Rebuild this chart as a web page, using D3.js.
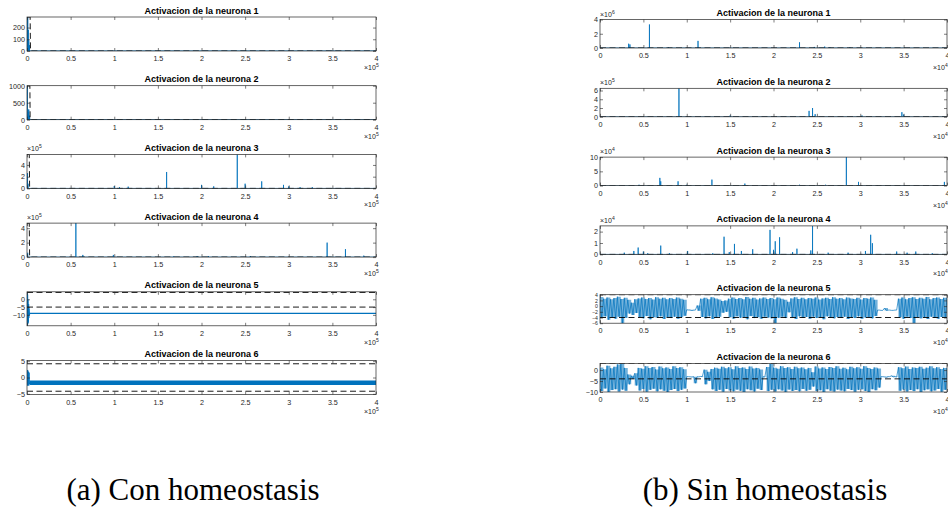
<!DOCTYPE html>
<html>
<head>
<meta charset="utf-8">
<script src="https://cdn.jsdelivr.net/npm/d3@7"></script>
<style>
  body { margin: 0; background: #fff; }
  svg { display: block; }
  .tick text { font-family: "Liberation Sans", Arial, sans-serif; font-size: 7.2px; fill: #262626; }
  .tick line { stroke: #262626; stroke-width: 0.6; }
  .ttl { font-family: "Liberation Sans", Arial, sans-serif; font-size: 9px; font-weight: bold; fill: #000; }
  .expo { font-family: "Liberation Sans", Arial, sans-serif; font-size: 7px; fill: #262626; }
  .cap { font-family: "Liberation Serif", "Times New Roman", serif; font-size: 31px; fill: #000; }
</style>
</head>
<body>
<div id="chart"></div>
<script>
var W = 948, H = 509;

var titles = ["Activacion de la neurona 1", "Activacion de la neurona 2", "Activacion de la neurona 3",
              "Activacion de la neurona 4", "Activacion de la neurona 5", "Activacion de la neurona 6"];
var captions = ["(a) Con homeostasis", "(b) Sin homeostasis"];
var xTicks = [0, 0.5, 1, 1.5, 2, 2.5, 3, 3.5, 4];
var xTickLabels = ["0", "0.5", "1", "1.5", "2", "2.5", "3", "3.5", "4"];

// ---- (a) con homeostasis, x en 1e5 ----
var aXExp = 5;
var aYDomains = [[0, 290], [0, 1000], [0, 5.8], [0, 4.7], [-17, 4.8], [-5.2, 5.2]];
var aYTicks = [[0, 100, 200], [0, 500, 1000], [0, 2, 4], [0, 2, 4], [-10, -5, 0], [-5, 0, 5]];
var aYExp = [null, null, 5, 5, null, null];

// spikes [x, altura]
var aSpikes1 = [[0.002, 290], [0.005, 120], [0.008, 290], [0.011, 60], [0.014, 180], [0.017, 40], [0.02, 90],
                [0.023, 30], [0.026, 50]];
var aSpikes2 = [[0.003, 1000], [0.007, 150], [0.011, 80], [0.015, 220], [0.02, 300], [0.025, 120], [0.03, 60]];
var aSpikes3 = [[0.006, 2.6], [0.012, 0.8], [1.0, 0.4], [1.06, 0.2], [1.16, 0.3], [1.6, 2.8], [2.0, 0.6], [2.14, 0.35],
                [2.41, 5.8], [2.5, 0.8], [2.69, 1.2], [2.94, 0.6], [3.0, 0.35], [3.13, 0.2], [3.27, 0.2]];
var aSpikes4 = [[0.008, 0.6], [0.56, 4.7], [0.64, 0.3], [0.99, 0.3], [1.68, 0.1], [1.95, 0.15], [2.08, 0.15],
                [2.56, 0.15], [3.44, 2.0], [3.65, 1.1], [3.86, 0.2]];
// neurona 5 y 6: trazas [x, y]
var aTrace5 = [[0, 4.5], [0.003, -17], [0.006, 3], [0.009, -16], [0.012, 0], [0.015, -15], [0.018, -3],
               [0.021, -12], [0.024, -6], [0.027, -10], [0.03, -9], [4, -9]];
var aTrace6 = [[0, 2], [0.004, -2.5], [0.008, 2.3], [0.012, -2.2], [0.016, 1.8], [0.02, -2.5], [0.024, 1.5],
               [0.028, -2], [0.032, -1.5]];
// banda densa de la neurona 6 [x, max, min]
var aBand6 = [[0.03, -0.9, -2.3], [4, -0.9, -2.3]];

// umbrales (lineas discontinuas)
var aThr = [
  [[[0, 290], [0.036, 290], [0.04, 0], [4, 0]]],
  [[[0, 1000], [0.033, 1000], [0.036, 0], [4, 0]]],
  [[[0, 5.8], [0.026, 5.8], [0.03, 0], [4, 0]]],
  [[[0, 4.7], [0.026, 4.7], [0.03, 0], [4, 0]]],
  [[[0, 4.4], [4, 4.4]], [[0, -5], [4, -5]]],
  [[[0, 4.2], [4, 4.2]], [[0, -4.2], [4, -4.2]]]
];

// ---- (b) sin homeostasis, x en 1e4 ----
var bXExp = 4;
var bYDomains = [[0, 4], [0, 6.5], [0, 10], [0, 2.5], [-6, 4], [-10, 3]];
var bYTicks = [[0, 2, 4], [0, 2, 4, 6], [0, 5, 10], [0, 1, 2], [-6, -4, -2, 0, 2, 4], [-10, -5, 0]];
var bYExp = [6, 5, 4, 4, null, null];

var bSpikes1 = [[0.33, 0.6], [0.345, 0.5], [0.57, 3.3], [0.79, 0.1], [1.13, 1.0], [2.30, 0.8], [2.47, 0.15],
                [2.59, 0.2], [2.65, 0.1], [2.88, 0.1]];
var bSpikes2 = [[0.91, 6.5], [1.5, 0.3], [2.41, 1.35], [2.45, 2.0], [2.48, 0.6], [3.02, 0.3], [3.48, 1.05], [3.5, 0.5]];
var bSpikes3 = [[0.45, 0.3], [0.69, 2.7], [0.70, 1.5], [0.9, 1.5], [1.0, 0.3], [1.2, 0.2], [1.29, 2.1], [1.67, 0.7],
                [2.3, 0.3], [2.6, 0.3], [2.84, 10], [2.98, 1.3], [3.2, 0.2], [3.5, 0.2], [3.97, 1.3]];
var bSpikes4 = [[0.28, 0.15], [0.39, 0.3], [0.44, 0.6], [0.5, 0.25], [0.55, 0.1], [0.70, 0.77], [0.8, 0.1], [1.01, 0.3],
                [1.3, 0.1], [1.43, 1.55], [1.49, 0.2], [1.55, 0.92], [1.63, 0.3], [1.76, 0.45], [1.96, 2.15], [2.0, 0.4],
                [2.02, 1.15], [2.07, 1.5], [2.22, 0.2], [2.27, 0.5], [2.43, 0.35], [2.45, 2.5], [2.63, 0.15],
                [2.86, 0.15], [3.06, 0.3], [3.12, 1.72], [3.14, 0.98], [3.42, 0.25], [3.54, 0.15], [3.64, 0.25], [3.83, 0.1]];

// neurona 5 y 6: maximo y minimo por tramo de 0.04e4
var bBin = 0.04;
var bHi5 = [3.2, 2.6, 3.0, 2.4, 2.8, 3.3, 2.5, 2.9, 2.2, 1.2,
            2.4, 2.7, 3.0, 2.5, 2.8, 2.3, 3.1, 2.6, 2.9, 2.4,
            2.8, 2.5, 3.0, 2.6, 2.2, -1.3, -1.4, -1.4, 0.2, 2.6,
            2.9, 2.4, 3.1, 2.7, 2.3, 1.8, 2.0, 2.6, 3.0, 2.5,
            2.8, 2.4, 3.2, 2.6, 2.9, 2.3, 2.7, 3.0, 2.5, 2.8,
            2.4, 3.0, 2.6, 2.2, 1.5, 2.7, 3.1, 2.5, 2.9, 2.4,
            2.8, 2.6, 3.0, 2.3, 2.7, 2.9, 2.5, 3.1, 2.6, 2.8,
            2.4, 3.0, 2.7, 2.5, 2.9, 2.3, 2.8, 2.6, 3.0, 2.2,
            -1.4, -1.5, -0.7, -1.4, -1.5, -1.4, 2.6, 3.0, 2.4, 2.8,
            3.1, 2.5, 2.9, 2.6, 3.2, 2.4, 2.8, 3.0, 2.5, 2.9];
var bLo5 = [-4.2, -3.6, -4.8, -3.9, -4.4, -3.7, -6.0, -4.1, -2.6, -3.1,
            -2.4, -3.8, -4.3, -3.5, -4.6, -3.9, -4.1, -3.6, -4.5, -3.8,
            -4.2, -3.7, -4.4, -3.9, -3.4, -1.4, -1.5, -1.4, -1.6, -3.8,
            -4.3, -3.6, -4.5, -4.0, -3.7, -2.3, -2.0, -3.9, -4.4, -3.6,
            -4.1, -3.8, -4.6, -3.5, -4.2, -3.9, -4.4, -3.7, -4.0, -4.3,
            -6.0, -4.1, -3.7, -4.2, -2.2, -3.9, -4.5, -3.6, -4.1, -3.8,
            -4.4, -3.7, -4.2, -3.9, -4.6, -3.6, -4.0, -4.3, -3.8, -4.1,
            -3.7, -4.5, -3.9, -4.2, -3.6, -4.4, -4.0, -3.8, -4.3, -3.5,
            -1.4, -1.5, -1.5, -1.4, -1.5, -1.4, -3.9, -4.4, -3.7, -4.2,
            -6.0, -3.8, -4.3, -3.9, -4.5, -3.7, -4.1, -4.4, -3.8, -4.2];
var bHi6 = [1.2, 0.4, 2.0, 0.8, 1.5, 2.6, 3.0, 1.0, -2.0, -2.6,
            -1.5, 1.0, 0.6, 1.8, 0.9, 1.4, 0.3, 1.6, 0.8, 1.2,
            0.5, 1.7, 0.9, 1.3, 0.4, -3.0, -3.1, -3.0, -3.0, -2.9,
            0.2, -0.8, 0.5, 1.1, 0.6, 1.5, 0.8, 1.3, 0.4, 1.7,
            0.9, 1.2, 0.5, 1.6, 0.7, 1.0, 0.3, -3.0, 1.4, 3.0,
            1.1, 0.6, 1.8, 0.9, 1.3, 0.5, 1.5, 0.8, 1.2, 0.4,
            1.0, -1.0, 1.6, 0.7, 1.2, 0.5, 1.4, 0.9, 1.7, 0.6,
            1.1, 0.4, 1.5, 0.8, 1.3, 0.6, 1.8, 1.0, 0.5, 1.2,
            0.7, -3.0, -3.1, -3.0, -2.6, -3.0, 1.3, 0.8, 1.6, 0.5,
            1.2, 0.9, 1.5, 0.6, 1.1, 1.7, 0.8, 1.3, 0.5, 1.0];
var bLo6 = [-9.6, -8.4, -10.0, -9.1, -8.7, -9.8, -8.9, -9.4, -6.5, -4.0,
            -7.0, -9.3, -8.6, -9.9, -9.0, -8.5, -9.7, -8.8, -9.4, -10.0,
            -9.1, -8.6, -9.6, -9.0, -8.4, -3.0, -3.2, -6.0, -3.1, -3.0,
            -6.5, -5.0, -8.8, -9.5, -9.0, -9.9, -8.6, -9.3, -9.7, -8.9,
            -9.4, -10.0, -8.7, -9.2, -9.8, -8.5, -9.1, -3.2, -9.6, -9.0,
            -9.8, -8.8, -9.3, -10.0, -8.9, -9.5, -9.1, -9.7, -8.6, -9.4,
            -9.0, -7.5, -9.6, -9.2, -10.0, -8.7, -9.4, -9.8, -8.9, -9.3,
            -9.7, -8.6, -9.1, -9.9, -9.0, -8.8, -9.5, -10.0, -8.7, -9.2,
            -8.0, -3.0, -3.3, -3.0, -3.1, -3.2, -9.4, -8.9, -9.8, -9.1,
            -9.6, -8.7, -10.0, -9.2, -8.8, -9.7, -9.3, -8.6, -9.9, -9.0];

var bThr = [
  [[[0, 0], [4, 0]]],
  [[[0, 0], [4, 0]]],
  [[[0, 0], [4, 0]]],
  [[[0, 0], [4, 0]]],
  [[[0, 4], [4, 4]], [[0, -4], [4, -4]]],
  [[[0, 3], [4, 3]], [[0, -4], [4, -4]]]
];

var blue = "#0072BD", ink = "#262626";

function spikeTrace(spikes) {
  var pts = [[0, 0]];
  spikes.slice().sort(function (a, b) { return a[0] - b[0]; }).forEach(function (s) {
    pts.push([s[0], 0], [s[0], s[1]], [s[0], 0]);
  });
  pts.push([4, 0]);
  return pts;
}

function binTrace(hi, lo) {
  var pts = [];
  hi.forEach(function (h, i) {
    pts.push([i * bBin, h], [i * bBin + bBin / 2, lo[i]]);
  });
  pts.push([4, hi[hi.length - 1]]);
  return pts;
}

// envolvente [x, max, min] de los tramos
function binBand(hi, lo) {
  var pts = [];
  hi.forEach(function (h, i) {
    pts.push([i * bBin, h, lo[i]], [i * bBin + bBin, h, lo[i]]);
  });
  return pts;
}

var panels = [
  { x0: 27, x1: 376, top0: 17, step: 68.7, h: 34, cx: 193, domains: aYDomains, ticks: aYTicks,
    yexp: aYExp, xexp: aXExp, thr: aThr, expDx: -12, expDy: 19,
    traces: [[spikeTrace(aSpikes1)], [spikeTrace(aSpikes2)], [spikeTrace(aSpikes3)], [spikeTrace(aSpikes4)],
             [aTrace5], [aTrace6]],
    bands: [null, null, null, null, null, aBand6], bandOpacity: 1,
    widths: [1, 1, 0.8, 0.8, 1.3, 0.9], yFont: [7.2, 7.2, 7.2, 7.2, 7.2, 7.2] },
  { x0: 600, x1: 947, top0: 19.5, step: 68.8, h: 28.5, cx: 765, domains: bYDomains, ticks: bYTicks,
    yexp: bYExp, xexp: bXExp, thr: bThr, expDx: -14, expDy: 22,
    traces: [[spikeTrace(bSpikes1)], [spikeTrace(bSpikes2)], [spikeTrace(bSpikes3)], [spikeTrace(bSpikes4)],
             [binTrace(bHi5, bLo5)], [binTrace(bHi6, bLo6)]],
    bands: [null, null, null, null, binBand(bHi5, bLo5), binBand(bHi6, bLo6)], bandOpacity: 0.55,
    widths: [0.8, 0.8, 0.8, 0.8, 0.7, 0.7], yFont: [7.2, 7.2, 7.2, 7.2, 5.2, 7.2] }
];

var svg = d3.select("#chart").append("svg")
  .attr("width", W)
  .attr("height", H);

function expLabel(g, x, y, e, anchor) {
  var t = g.append("text").attr("class", "expo")
    .attr("x", x).attr("y", y).attr("text-anchor", anchor);
  t.append("tspan").text("\u00d710");
  t.append("tspan").attr("dy", -3).style("font-size", "5px").text(e);
}

panels.forEach(function (p, pi) {
  var w = p.x1 - p.x0;
  var x = d3.scaleLinear().domain([0, 4]).range([0, w]);

  titles.forEach(function (title, i) {
    var top = p.top0 + p.step * i;
    var y = d3.scaleLinear().domain(p.domains[i]).range([p.h, 0]);
    var g = svg.append("g").attr("transform", "translate(" + p.x0 + "," + top + ")");
    var cid = "clip" + pi + "_" + i;

    g.append("clipPath").attr("id", cid)
      .append("rect").attr("width", w).attr("height", p.h);

    var plot = g.append("g").attr("clip-path", "url(#" + cid + ")");
    var line = d3.line()
      .x(function (d) { return x(d[0]); })
      .y(function (d) { return y(d[1]); });

    if (p.bands[i]) {
      plot.append("path")
        .datum(p.bands[i])
        .attr("fill", blue)
        .attr("fill-opacity", p.bandOpacity)
        .attr("d", d3.area()
          .x(function (d) { return x(d[0]); })
          .y0(function (d) { return y(d[2]); })
          .y1(function (d) { return y(d[1]); }));
    }

    p.traces[i].forEach(function (tr) {
      plot.append("path")
        .datum(tr)
        .attr("fill", "none")
        .attr("stroke", blue)
        .attr("stroke-width", p.widths[i])
        .attr("d", line);
    });

    p.thr[i].forEach(function (tr) {
      plot.append("path")
        .datum(tr)
        .attr("fill", "none")
        .attr("stroke", "#000")
        .attr("stroke-width", 0.9)
        .attr("stroke-dasharray", "6,3.5")
        .attr("d", line);
    });

    // ejes con marcas hacia dentro
    g.append("g")
      .attr("transform", "translate(0," + p.h + ")")
      .call(d3.axisBottom(x).tickValues(xTicks)
        .tickFormat(function (d, k) { return xTickLabels[k]; })
        .tickSizeInner(-3).tickSizeOuter(0).tickPadding(5))
      .call(function (a) { a.select(".domain").remove(); });

    g.append("g")
      .call(d3.axisTop(x).tickValues(xTicks).tickFormat("").tickSizeInner(-3).tickSizeOuter(0))
      .call(function (a) { a.select(".domain").remove(); });

    g.append("g")
      .call(d3.axisLeft(y).tickValues(p.ticks[i]).tickFormat(d3.format("d"))
        .tickSizeInner(-3).tickSizeOuter(0).tickPadding(2))
      .call(function (a) {
        a.select(".domain").remove();
        a.selectAll(".tick text").style("font-size", p.yFont[i] + "px");
      });

    g.append("g")
      .attr("transform", "translate(" + w + ",0)")
      .call(d3.axisRight(y).tickValues(p.ticks[i]).tickFormat("").tickSizeInner(-3).tickSizeOuter(0))
      .call(function (a) { a.select(".domain").remove(); });

    g.append("rect")
      .attr("width", w).attr("height", p.h)
      .attr("fill", "none")
      .attr("stroke", ink)
      .attr("stroke-width", 0.7);

    g.append("text").attr("class", "ttl")
      .attr("x", w / 2).attr("y", -3.5)
      .attr("text-anchor", "middle")
      .text(title);

    expLabel(g, w + p.expDx, p.h + p.expDy, p.xexp, "start");
    if (p.yexp[i] !== null) expLabel(g, 0, -3, p.yexp[i], "start");
  });

  svg.append("text").attr("class", "cap")
    .attr("x", p.cx).attr("y", 500)
    .attr("text-anchor", "middle")
    .text(captions[pi]);
});
</script>
</body>
</html>
